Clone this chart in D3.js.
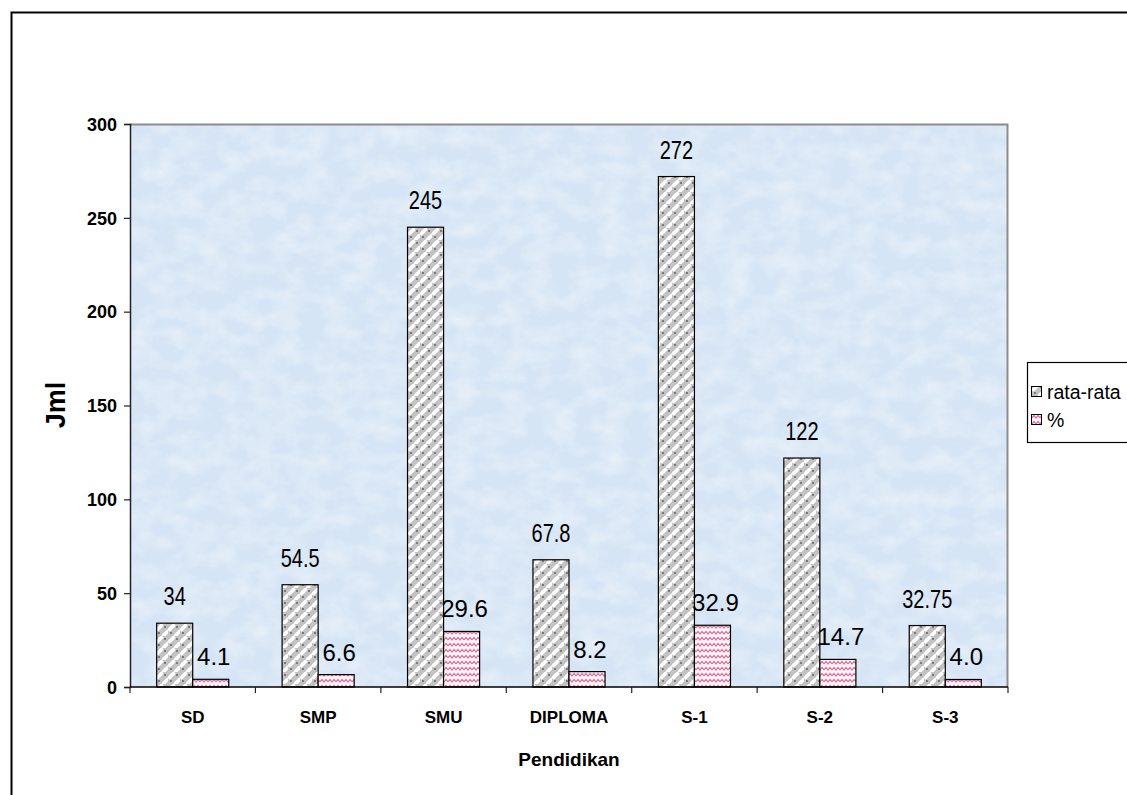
<!DOCTYPE html>
<html>
<head>
<meta charset="utf-8">
<script src="https://cdn.jsdelivr.net/npm/d3@7"></script>
<style>
  html, body { margin: 0; padding: 0; background: #fff; overflow: hidden; }
  svg { display: block; }
</style>
</head>
<body>
<svg id="chart" width="1127" height="795"></svg>
<script>
// Rata-rata dan persentase menurut tingkat pendidikan
const categories = ["SD", "SMP", "SMU", "DIPLOMA", "S-1", "S-2", "S-3"];
const rataRata = [34, 54.5, 245, 67.8, 272, 122, 32.75];
const persen = [4.1, 6.6, 29.6, 8.2, 32.9, 14.7, 4.0];
const rataLabels = ["34", "54.5", "245", "67.8", "272", "122", "32.75"];
const persenLabels = ["4.1", "6.6", "29.6", "8.2", "32.9", "14.7", "4.0"];
const yTicks = [0, 50, 100, 150, 200, 250, 300];
const seriesNames = ["rata-rata", "%"];

const svg = d3.select("#chart");
const defs = svg.append("defs");

// plot area
const plot = { left: 130, right: 1008, top: 124, bottom: 687 };

// fine mottled paper texture for the plot background
const tex = defs.append("filter").attr("id", "paper")
  .attr("x", 0).attr("y", 0).attr("width", "100%").attr("height", "100%");
tex.append("feTurbulence").attr("type", "fractalNoise")
  .attr("baseFrequency", "0.04 0.055").attr("numOctaves", 5).attr("seed", 11).attr("result", "n");
tex.append("feColorMatrix").attr("in", "n").attr("type", "matrix")
  .attr("values", "0 0 0 0 1  0 0 0 0 1  0 0 0 0 1  1.5 0 0 0 -0.55");

// weave pattern for rata-rata bars
const pw = defs.append("pattern").attr("id", "weave")
  .attr("patternUnits", "userSpaceOnUse").attr("width", 12).attr("height", 12);
pw.append("rect").attr("width", 12).attr("height", 12).attr("fill", "#c2c2c2");
pw.append("path")
  .attr("d", "M1.5,5.5 L5.5,1.5 M7.5,11.5 L11.5,7.5")
  .attr("stroke", "#fff").attr("stroke-width", 3.6).attr("stroke-linecap", "round");
pw.append("circle").attr("cx", 9).attr("cy", 3).attr("r", 1.1).attr("fill", "#6a6a6a");
pw.append("circle").attr("cx", 3).attr("cy", 9).attr("r", 1.1).attr("fill", "#6a6a6a");

// wave pattern for % bars
const pp = defs.append("pattern").attr("id", "wave")
  .attr("patternUnits", "userSpaceOnUse").attr("width", 8).attr("height", 6);
pp.append("rect").attr("width", 8).attr("height", 6).attr("fill", "#fdf2f6");
pp.append("path").attr("d", "M0,4 L2,1.5 L4,4 L6,1.5 L8,4")
  .attr("fill", "none").attr("stroke", "#d3739c").attr("stroke-width", 1.2);

const fills = ["url(#weave)", "url(#wave)"];

// outer chart frame
svg.append("rect").attr("x", 11.5).attr("y", 12.5).attr("width", 1300).attr("height", 900)
  .attr("fill", "#fff").attr("stroke", "#000").attr("stroke-width", 2);

// scales
const x = d3.scaleBand().domain(categories).range([plot.left, plot.right]).padding(0);
const xs = d3.scaleBand().domain(seriesNames).range([0, x.bandwidth()])
  .paddingInner(0).paddingOuter(0.74);
const y = d3.scaleLinear().domain([0, 300]).range([plot.bottom, plot.top]);

// plot background
svg.append("rect").attr("x", plot.left).attr("y", plot.top)
  .attr("width", plot.right - plot.left).attr("height", plot.bottom - plot.top)
  .attr("fill", "#d6e5f5");
svg.append("rect").attr("x", plot.left).attr("y", plot.top)
  .attr("width", plot.right - plot.left).attr("height", plot.bottom - plot.top)
  .attr("fill", "#fff").attr("filter", "url(#paper)").attr("opacity", 0.5);
// top and right plot border
svg.append("path")
  .attr("d", `M${plot.left},${plot.top + 0.5} H${plot.right - 0.5} V${plot.bottom}`)
  .attr("fill", "none").attr("stroke", "#8c8c8c").attr("stroke-width", 2);

// bars
const series = [rataRata, persen];
series.forEach((vals, si) => {
  svg.append("g").selectAll("rect").data(vals).join("rect")
    .attr("x", (d, i) => x(categories[i]) + xs(seriesNames[si]))
    .attr("y", d => y(d))
    .attr("width", xs.bandwidth())
    .attr("height", d => y(0) - y(d))
    .attr("fill", fills[si])
    .attr("stroke", "#000").attr("stroke-width", 1.2);
});

// y axis
const yAxis = svg.append("g").attr("transform", `translate(${plot.left},0)`)
  .call(d3.axisLeft(y).tickValues(yTicks).tickSize(6).tickPadding(7).tickFormat(d3.format("d")));
yAxis.select(".domain").attr("stroke", "#222").attr("stroke-width", 1.5);
yAxis.selectAll(".tick line").attr("stroke", "#222").attr("stroke-width", 1.2);
yAxis.selectAll("text").attr("font-family", "Liberation Sans, Arial, sans-serif")
  .attr("font-weight", "bold").attr("font-size", 18).attr("fill", "#000").attr("dy", "0.35em");

// x axis with ticks between categories
const xAxisG = svg.append("g").attr("transform", `translate(0,${plot.bottom})`);
xAxisG.append("line").attr("x1", plot.left).attr("x2", plot.right)
  .attr("stroke", "#000").attr("stroke-width", 1.5);
const bounds = categories.map(c => x(c)).concat([plot.right]);
xAxisG.selectAll(".tk").data(bounds).join("line")
  .attr("x1", d => d).attr("x2", d => d).attr("y1", 0).attr("y2", 6)
  .attr("stroke", "#222").attr("stroke-width", 1.2);
xAxisG.selectAll(".cat").data(categories).join("text")
  .attr("x", d => x(d) + x.bandwidth() / 2).attr("y", 36)
  .attr("text-anchor", "middle")
  .attr("font-family", "Liberation Sans, Arial, sans-serif")
  .attr("font-weight", "bold").attr("font-size", 17).text(d => d);

// axis titles
svg.append("text").attr("x", (plot.left + plot.right) / 2).attr("y", 766)
  .attr("text-anchor", "middle")
  .attr("font-family", "Liberation Sans, Arial, sans-serif")
  .attr("font-weight", "bold").attr("font-size", 19).text("Pendidikan");
svg.append("text").attr("transform", "translate(65,405) rotate(-90)")
  .attr("text-anchor", "middle")
  .attr("font-family", "Liberation Sans, Arial, sans-serif")
  .attr("font-weight", "bold").attr("font-size", 27).text("Jml");

// value labels: rata-rata in a condensed face, % in regular width
svg.append("g").selectAll("text").data(rataRata).join("text")
  .attr("transform", (d, i) =>
    `translate(${x(categories[i]) + xs("rata-rata") + xs.bandwidth() / 2},${y(d) - 18}) scale(0.8,1)`)
  .attr("text-anchor", "middle")
  .attr("font-family", "Liberation Sans, Arial, sans-serif")
  .attr("font-size", 25).attr("fill", "#000")
  .text((d, i) => rataLabels[i]);
svg.append("g").selectAll("text").data(persen).join("text")
  .attr("x", (d, i) => x(categories[i]) + xs("%") + xs.bandwidth() / 2 + 3)
  .attr("y", d => y(d) - 14)
  .attr("text-anchor", "middle")
  .attr("font-family", "Liberation Sans, Arial, sans-serif")
  .attr("font-size", 24).attr("fill", "#000")
  .text((d, i) => persenLabels[i]);

// legend
const lg = svg.append("g");
lg.append("rect").attr("x", 1027.5).attr("y", 362.5).attr("width", 200).attr("height", 80)
  .attr("fill", "#fff").attr("stroke", "#000").attr("stroke-width", 1.2);
seriesNames.forEach((s, i) => {
  const cy = 392 + i * 28;
  lg.append("rect").attr("x", 1031.5).attr("y", cy - 5.5).attr("width", 10).attr("height", 10)
    .attr("fill", fills[i]).attr("stroke", "#000").attr("stroke-width", 1);
  lg.append("text").attr("x", 1047).attr("y", cy).attr("dy", "0.35em")
    .attr("font-family", "Liberation Sans, Arial, sans-serif")
    .attr("font-size", 19.5).text(s);
});
</script>
</body>
</html>
